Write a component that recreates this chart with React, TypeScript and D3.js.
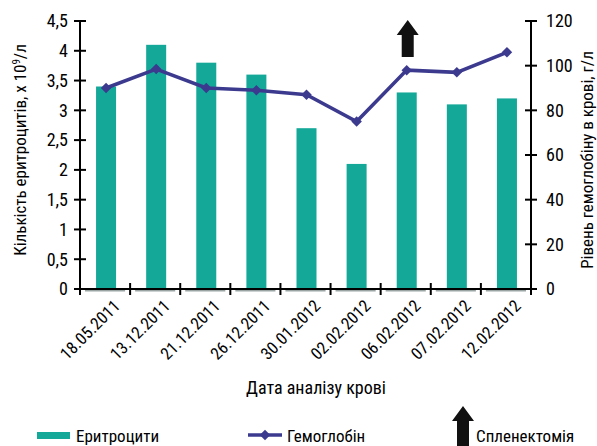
import * as d3 from "d3";
import { useEffect } from "react";

const categories = [
  "18.05.2011",
  "13.12.2011",
  "21.12.2011",
  "26.12.2011",
  "30.01.2012",
  "02.02.2012",
  "06.02.2012",
  "07.02.2012",
  "12.02.2012",
];
const erythrocytes = [3.4, 4.1, 3.8, 3.6, 2.7, 2.1, 3.3, 3.1, 3.2];
const hemoglobin = [90, 98.5, 90, 89, 87, 75, 98, 97, 106];
const leftTicks = [0, 0.5, 1, 1.5, 2, 2.5, 3, 3.5, 4, 4.5];
const rightTicks = [0, 20, 40, 60, 80, 100, 120];
const splenectomyAt = "06.02.2012";

const font = "'Liberation Sans Narrow', 'Roboto Condensed', 'DejaVu Sans Condensed', sans-serif";
const teal = "#14a899";
const navy = "#3b3a8f";

// block arrow pointing up, tip at (cx, top)
const arrowPath = (cx: number, top: number, h: number) => {
  const head = 15, hw = 11, sw = 6;
  return `M${cx},${top} L${cx + hw},${top + head} L${cx + sw},${top + head} L${cx + sw},${top + h} L${cx - sw},${top + h} L${cx - sw},${top + head} L${cx - hw},${top + head} Z`;
};

const App = () => {
  useEffect(() => {
    document.body.style.margin = "0";
  }, []);

  const x = d3.scaleBand().domain(categories).range([80, 531]);
  const yL = d3.scaleLinear().domain([0, 4.5]).range([289, 21]);
  const yR = d3.scaleLinear().domain([0, 120]).range([289, 21]);
  const barW = 20;
  const cx = (c: string) => (x(c) as number) + x.bandwidth() / 2 + 1;

  const line = d3
    .line<number>()
    .x((_, i) => cx(categories[i]))
    .y((d) => yR(d));
  // square turned 45deg -> diamond marker
  const diamond = d3.symbol(d3.symbolSquare, 55)() as string;

  const boundaries = categories.map((c) => x(c) as number).concat([531]);

  return (
    <svg width={597} height={446} style={{ display: "block", background: "#fff" }} fontFamily={font}>
      {/* bars */}
      {erythrocytes.map((v, i) => (
        <rect
          key={i}
          x={cx(categories[i]) - barW / 2}
          y={yL(v)}
          width={barW}
          height={yL(0) - yL(v)}
          fill={teal}
        />
      ))}
      {/* grey strips under bars */}
      {categories.map((c, i) => (
        <line key={i} x1={(x(c) as number) + 5} x2={(x(c) as number) + x.bandwidth() - 5} y1={290} y2={290} stroke="#9aa5a3" strokeWidth={3} />
      ))}

      {/* hemoglobin line */}
      <path d={line(hemoglobin) as string} fill="none" stroke={navy} strokeWidth={3.5} />
      {hemoglobin.map((v, i) => (
        <path key={i} d={diamond} transform={`translate(${cx(categories[i])},${yR(v)}) rotate(45)`} fill={navy} />
      ))}

      {/* splenectomy arrow */}
      <path d={arrowPath(cx(splenectomyAt) + 1, 20, 37)} fill="#111" />

      {/* left axis */}
      <line x1={80} x2={80} y1={21} y2={290} stroke="#000" strokeWidth={2} />
      {leftTicks.map((t) => (
        <g key={t}>
          <line x1={74} x2={86} y1={yL(t)} y2={yL(t)} stroke="#000" strokeWidth={2} />
          <text x={68} y={yL(t)} dy="0.35em" textAnchor="end" fontSize={18}>
            {String(t).replace(".", ",")}
          </text>
        </g>
      ))}

      {/* right axis */}
      <line x1={531} x2={531} y1={21} y2={290} stroke="#000" strokeWidth={2} />
      {rightTicks.map((t) => (
        <g key={t}>
          <line x1={525} x2={537} y1={yR(t)} y2={yR(t)} stroke="#000" strokeWidth={2} />
          <text x={546} y={yR(t)} dy="0.35em" textAnchor="start" fontSize={18}>
            {t}
          </text>
        </g>
      ))}

      {/* x axis */}
      <line x1={80} x2={531} y1={289} y2={289} stroke="#000" strokeWidth={2} />
      {boundaries.map((b, i) => (
        <line key={i} x1={b} x2={b} y1={283} y2={295} stroke="#000" strokeWidth={2} />
      ))}
      {categories.map((c) => (
        <text
          key={c}
          transform={`translate(${cx(c) + 6},${298}) rotate(-45)`}
          textAnchor="end"
          dy="0.75em"
          fontSize={17}
        >
          {c}
        </text>
      ))}

      {/* axis titles */}
      <text x={316} y={394} textAnchor="middle" fontSize={18}>
        Дата аналізу крові
      </text>
      <text transform="translate(26,150) rotate(-90)" textAnchor="middle" fontSize={17}>
        Кількість еритроцитів, х 10<tspan dy={-6} fontSize={11}>9</tspan>
        <tspan dy={6}>/л</tspan>
      </text>
      <text transform="translate(593,160) rotate(-90)" textAnchor="middle" fontSize={17}>
        Рівень гемоглобіну в крові, г/л
      </text>

      {/* legend */}
      <rect x={37} y={432} width={33} height={7} fill={teal} />
      <text x={76} y={442} fontSize={17}>
        Еритроцити
      </text>
      <line x1={248} x2={282} y1={435} y2={435} stroke={navy} strokeWidth={3.5} />
      <path d={diamond} transform="translate(265,435) rotate(45)" fill={navy} />
      <text x={287} y={442} fontSize={17}>
        Гемоглобін
      </text>
      <path d={arrowPath(463, 406, 40)} fill="#111" />
      <text x={476} y={442} fontSize={17}>
        Спленектомія
      </text>
    </svg>
  );
};

export default App;
